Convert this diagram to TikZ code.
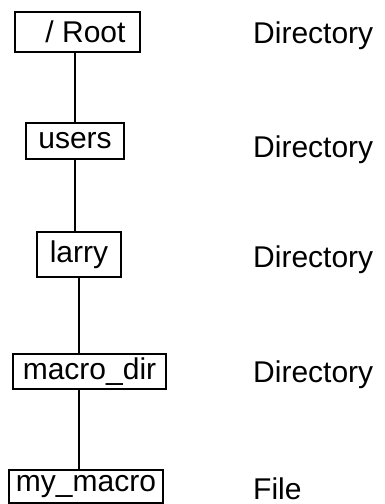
\documentclass[tikz,border=0pt]{standalone}
\usepackage{fontspec}
\setmainfont{Liberation Sans}
\tikzset{
  dirbox/.style={draw, black, line width=1.2pt, inner sep=0pt, font=\fontsize{30}{34}\selectfont},
  kindlabel/.style={anchor=base west, inner sep=0pt, font=\fontsize{30}{34}\selectfont},
}
\begin{document}
\begin{tikzpicture}[x=1pt, y=-1pt]
    \useasboundingbox (0,0) rectangle (385,504);

    % 1. The boxes of the path, from the root down to the file
    \node[dirbox, minimum width=125pt, minimum height=40pt] (root) at (77.5,32) {\hspace{16pt}/ Root};
    \node[dirbox, minimum width=98pt, minimum height=36pt] (users) at (75,141) {users};
    \node[dirbox, minimum width=84pt, minimum height=45pt] (larry) at (79,254.5) {larry};
    \node[dirbox, minimum width=153pt, minimum height=35pt] (macrodir) at (89.5,371.5) {macro\_dir};
    \node[dirbox, minimum width=154pt, minimum height=33pt] (mymacro) at (86,486.5) {my\_macro};

    % 2. Vertical links between the boxes
    \draw[line width=1.5pt] (root.south -| users.north) -- (users.north);
    \draw[line width=1.5pt] (users.south) -- (larry.north -| users.south);
    \draw[line width=1.5pt] (larry.south) -- (macrodir.north -| larry.south);
    \draw[line width=1.5pt] (macrodir.south -| larry.south) -- (mymacro.north -| larry.south);

    % 3. Kind of each entry, on the right
    \node[kindlabel] (kroot) at (253,43) {Directory};
    \node[kindlabel] (kusers) at (253,157) {Directory};
    \node[kindlabel] (klarry) at (253,267) {Directory};
    \node[kindlabel] (kmacrodir) at (253,382) {Directory};
    \node[kindlabel] (kmymacro) at (253,499) {File};
\end{tikzpicture}
\end{document}
